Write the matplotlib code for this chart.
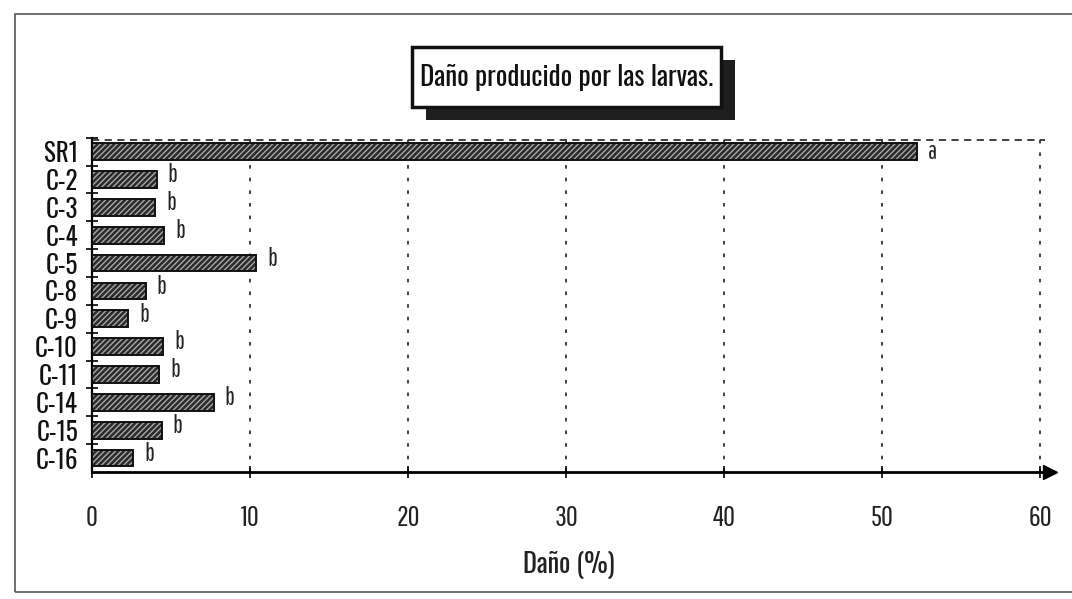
import matplotlib.pyplot as plt
from matplotlib.patches import Rectangle

plt.rcParams['font.family'] = ['Pathway Gothic One', 'Oswald', 'Archivo Narrow', 'DejaVu Sans']
plt.rcParams['hatch.linewidth'] = 1.0
heavy = ['Oswald', 'Archivo Narrow', 'DejaVu Sans']

tratamientos = ["SR1", "C-2", "C-3", "C-4", "C-5", "C-8", "C-9",
                "C-10", "C-11", "C-14", "C-15", "C-16"]
dano = [52.2, 4.1, 4.0, 4.55, 10.4, 3.4, 2.3, 4.5, 4.25, 7.7, 4.4, 2.6]
letras = ["a", "b", "b", "b", "b", "b", "b", "b", "b", "b", "b", "b"]
xticks = [0, 10, 20, 30, 40, 50, 60]

fig = plt.figure(figsize=(10.72, 5.99), dpi=100)
ax = fig.add_axes([0.0858, 0.212, 0.889, 0.558])

pos = [len(tratamientos) - 1 - i for i in range(len(tratamientos))]

# dark bars with light diagonal stripes and a black outline
ax.barh(pos, dano, height=0.6, color="#2a2a2a", linewidth=0, zorder=3)
ax.barh(pos, dano, height=0.6, facecolor="none", edgecolor="#a8a8a8",
        hatch="//////", linewidth=0, zorder=4)
ax.barh(pos, dano, height=0.6, facecolor="none", edgecolor="#111111",
        linewidth=1.4, zorder=5)

for p, v, l in zip(pos, dano, letras):
    dy = 0.0 if l == "a" else 0.15
    ax.text(v + 0.7, p + dy, l, fontsize=18, va="center", ha="left",
            color="#222222", zorder=6)

ax.set_xlim(0, 60.3)
ax.set_ylim(-0.5, 11.43)
ax.set_xticks(xticks)
ax.set_xticklabels([str(t) for t in xticks], fontsize=21, color="#222222")
ax.set_yticks(pos)
ax.set_yticklabels(tratamientos, fontsize=18, color="#111111", family=heavy)
ax.set_yticks([p + 0.5 for p in pos], minor=True)
ax.tick_params(axis="y", which="major", length=0, pad=10)
ax.tick_params(axis="y", which="minor", length=8, direction="inout", width=1.2)
ax.tick_params(axis="x", length=8, direction="inout", width=1.2, pad=20)

for t in xticks[1:]:
    ax.axvline(t, color="#333333", linestyle=(0, (2, 5)), linewidth=1.3, zorder=1)
ax.axhline(11.43, color="#333333", linestyle=(0, (4, 3)), linewidth=1.3, zorder=1)

for s in ["top", "right"]:
    ax.spines[s].set_visible(False)
ax.spines["left"].set_linewidth(1.6)
ax.spines["bottom"].set_linewidth(2.0)
ax.plot([60.6], [-0.5], marker=">", markersize=10, color="black",
        clip_on=False, zorder=7)

ax.set_xlabel("Daño (%)", fontsize=19, labelpad=14, color="#222222", family=heavy)

# title in a framed box with a heavy drop shadow
fig.patches.append(Rectangle((0.397, 0.800), 0.289, 0.1, transform=fig.transFigure,
                             facecolor="#1e1e1e", edgecolor="none"))
fig.patches.append(Rectangle((0.384, 0.821), 0.289, 0.1, transform=fig.transFigure,
                             facecolor="white", edgecolor="#111111", linewidth=2.5))
fig.text(0.5285, 0.871, "Daño producido por las larvas.", fontsize=19.5,
         ha="center", va="center", color="#111111", family=heavy)

# outer frame
fig.patches.append(Rectangle((0.014, 0.012), 0.99, 0.965, transform=fig.transFigure,
                             facecolor="none", edgecolor="#555555", linewidth=1.2))

fig.savefig("out.png", dpi=100)
